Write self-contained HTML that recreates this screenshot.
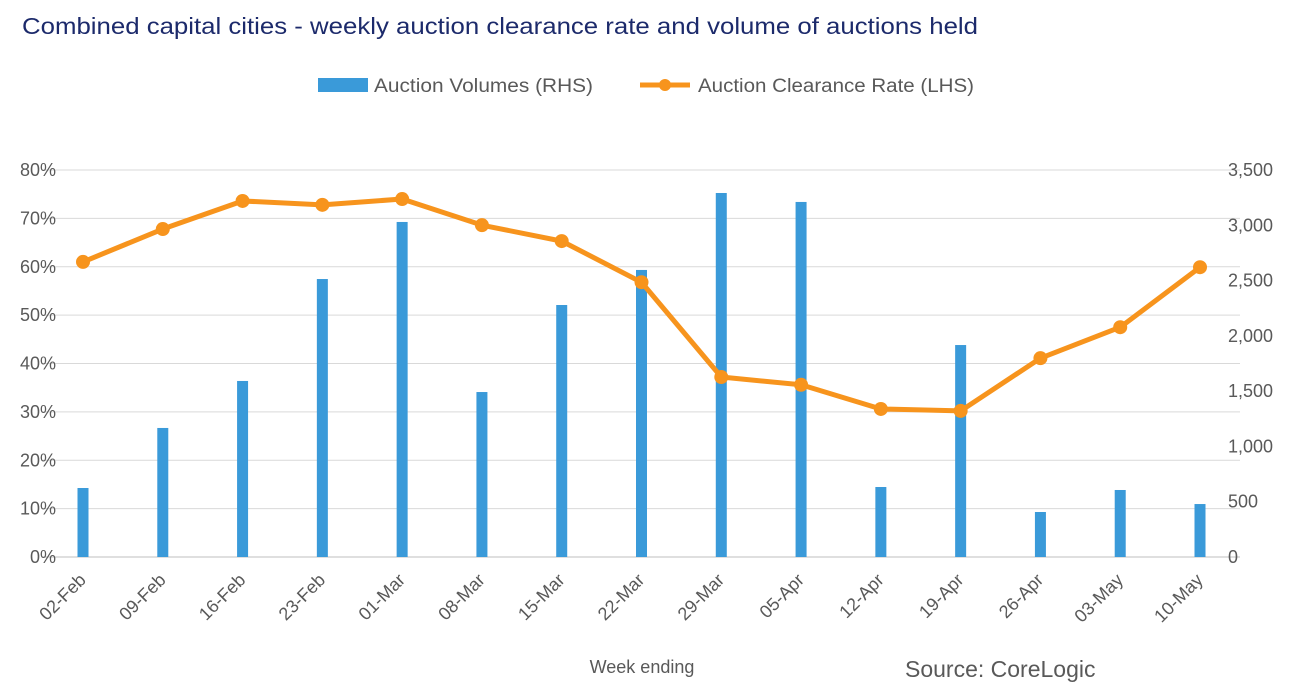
<!DOCTYPE html>
<html><head><meta charset="utf-8"><style>
body{margin:0;background:#fff;}
svg text{font-family:"Liberation Sans",sans-serif;}
</style></head><body>
<svg id="c" width="1297" height="695" xmlns="http://www.w3.org/2000/svg">
<text x="22" y="34" font-size="23" fill="#1c2a6b" textLength="956" lengthAdjust="spacingAndGlyphs">Combined capital cities - weekly auction clearance rate and volume of auctions held</text>
<g>
<rect x="318" y="78" width="50" height="14" fill="#3a9ad9"/>
<text x="374" y="92" font-size="19" fill="#595959" textLength="219" lengthAdjust="spacingAndGlyphs">Auction Volumes (RHS)</text>
<line x1="640" y1="85" x2="690" y2="85" stroke="#f7941d" stroke-width="5"/>
<circle cx="665" cy="85" r="6" fill="#f7941d"/>
<text x="698" y="92" font-size="19" fill="#595959" textLength="276" lengthAdjust="spacingAndGlyphs">Auction Clearance Rate (LHS)</text>
</g>
<g id="grid"></g><g id="bars"></g><g id="line"></g><g id="axes"></g>
<text x="642" y="673" font-size="18" fill="#595959" text-anchor="middle">Week ending</text>
<text x="905" y="677" font-size="23" fill="#595959">Source: CoreLogic</text>
</svg>
<script>
const categories=["02-Feb","09-Feb","16-Feb","23-Feb","01-Mar","08-Mar","15-Mar","22-Mar","29-Mar","05-Apr","12-Apr","19-Apr","26-Apr","03-May","10-May"];
const volumes=[624,1167,1592,2514,3030,1492,2279,2596,3292,3211,633,1917,407,606,479];
const clearance=[61.0,67.8,73.6,72.8,74.0,68.6,65.3,56.8,37.2,35.6,30.6,30.2,41.1,47.5,59.9];
const leftTicks=[0,10,20,30,40,50,60,70,80];
const rightTicks=[0,500,1000,1500,2000,2500,3000,3500];
const NS="http://www.w3.org/2000/svg";
const x0=83,x1=1200,yb=557,yt=170;
function xs(i){return x0+(x1-x0)*i/(categories.length-1);}
function yl(v){return yb-(yb-yt)*v/80;}
function yr(v){return yb-(yb-yt)*v/3500;}
function mk(tag,attrs,parent,txt){const e=document.createElementNS(NS,tag);for(const k in attrs)e.setAttribute(k,attrs[k]);if(txt!==undefined)e.textContent=txt;document.getElementById(parent).appendChild(e);return e;}
leftTicks.forEach(v=>{
 const g=mk('line',{x1:x0-40,x2:x1+40,y1:yl(v),y2:yl(v),stroke:v===0?'#bfbfbf':'#d9d9d9','stroke-width':1},'grid');
 
 
 const t=mk('text',{x:56,y:yl(v)+6,'font-size':18,fill:'#595959','text-anchor':'end'},'axes',v+'%');
 
 
});
rightTicks.forEach(v=>{
 const t=mk('text',{x:1228,y:yr(v)+6,'font-size':18,fill:'#595959'},'axes',v.toLocaleString('en-US'));
 
 
});
categories.forEach((c,i)=>{
 const x=xs(i);
 const b=mk('rect',{x:x-5.5,y:yr(volumes[i]),width:11,height:yb-yr(volumes[i]),fill:'#3a9ad9'},'bars');
 
 
 const t=mk('text',{x:x+4,y:yb+24,'font-size':18,fill:'#595959','text-anchor':'end',transform:`rotate(-45 ${x+4} ${yb+24})`},'axes',c);
 
 
});
const pts=clearance.map((v,i)=>xs(i)+','+yl(v)).join(' ');
const pl=mk('polyline',{points:pts,fill:'none',stroke:'#f7941d','stroke-width':5,'stroke-linejoin':'round'},'line');


clearance.forEach((v,i)=>{
 const p=mk('circle',{cx:xs(i),cy:yl(v),r:7,fill:'#f7941d'},'line');
 
 
});
</script>
</body></html>
